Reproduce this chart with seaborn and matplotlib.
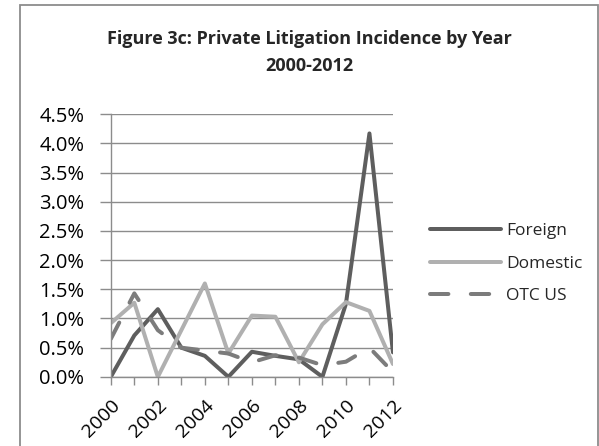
import matplotlib
matplotlib.use("Agg")
import matplotlib.pyplot as plt
import seaborn as sns
import pandas as pd
from matplotlib.patches import Rectangle
from matplotlib.ticker import FuncFormatter, MultipleLocator

years = list(range(2000, 2013))
foreign = [0.00, 0.71, 1.16, 0.50, 0.36, 0.00, 0.43, 0.36, 0.30, 0.00, 1.25, 4.17, 0.42]
domestic = [0.92, 1.27, 0.00, 0.80, 1.60, 0.40, 1.05, 1.03, 0.25, 0.90, 1.28, 1.13, 0.22]
otc_us = [0.65, 1.43, 0.80, 0.50, 0.45, 0.40, 0.25, 0.37, 0.33, 0.20, 0.26, 0.50, 0.08]
series_names = ["Foreign", "Domestic", "OTC US"]
title_text = "Figure 3c: Private Litigation Incidence by Year\n2000-2012"
xtick_labels = [str(y) for y in range(2000, 2013, 2)]

sns.set_theme(style="white")
plt.rcParams['font.family'] = ['Open Sans', 'DejaVu Sans']

df = pd.DataFrame({"Year": years * 3,
                   "Value": foreign + domestic + otc_us,
                   "Series": sum([[n] * len(years) for n in series_names], [])})

fig = plt.figure(figsize=(5.99, 4.46), dpi=100)
ax = fig.add_axes([0.185, 0.155, 0.471, 0.589])

colors = {"Foreign": "#5e5e5e", "Domestic": "#b0b0b0", "OTC US": "#7c7c7c"}
lw = 4.0 * 72 / 100
for name in series_names:
    sub = df[df.Series == name]
    sns.lineplot(data=sub, x="Year", y="Value", ax=ax, color=colors[name],
                 linewidth=lw, label=name, solid_capstyle="round",
                 solid_joinstyle="round")
lines = ax.get_lines()
lines[2].set_dashes([4.6, 5.6])
lines[2].set_dash_capstyle("round")

ax.set_xlim(2000, 2012)
ax.set_ylim(0, 4.5)
ax.yaxis.set_major_locator(MultipleLocator(0.5))
ax.yaxis.set_major_formatter(FuncFormatter(lambda v, p: f"{v:.1f}%"))
ax.set_xticks(years, minor=True)
ax.set_xticks(list(range(2000, 2013, 2)))
ax.set_xticklabels(xtick_labels, rotation=45, ha="right", rotation_mode="anchor")
ax.set_xlabel("")
ax.set_ylabel("")
ax.grid(axis="y", color="#8c8c8c", linewidth=1.0)
ax.set_axisbelow(True)
for s in ["top", "right"]:
    ax.spines[s].set_visible(False)
for s in ["left", "bottom"]:
    ax.spines[s].set_color("#8c8c8c")
    ax.spines[s].set_linewidth(1.0)
ax.tick_params(axis="y", which="major", left=True, length=8, width=1.0,
               color="#8c8c8c", labelsize=14.5, pad=11, labelcolor="black")
ax.tick_params(axis="x", which="both", bottom=True, length=6, width=1.0,
               color="#8c8c8c", direction="out")
ax.tick_params(axis="x", which="major", labelsize=14, pad=8, labelcolor="black")

leg = ax.legend(loc="upper left", bbox_to_anchor=(1.105, 0.612), frameon=False,
                fontsize=12.5, handlelength=4.1, handletextpad=0.3,
                labelspacing=0.95, borderaxespad=0)

fig.text(0.516, 0.882, title_text, ha="center", va="center",
         fontsize=13, fontweight="bold", linespacing=1.6)

fig.patches.append(Rectangle((20 / 599, -0.05), (598 - 20) / 599, 1 - 5 / 446 + 0.05,
                             transform=fig.transFigure, fill=False,
                             edgecolor="#8c8c8c", linewidth=1.3))

fig.savefig("out.png", dpi=100)
